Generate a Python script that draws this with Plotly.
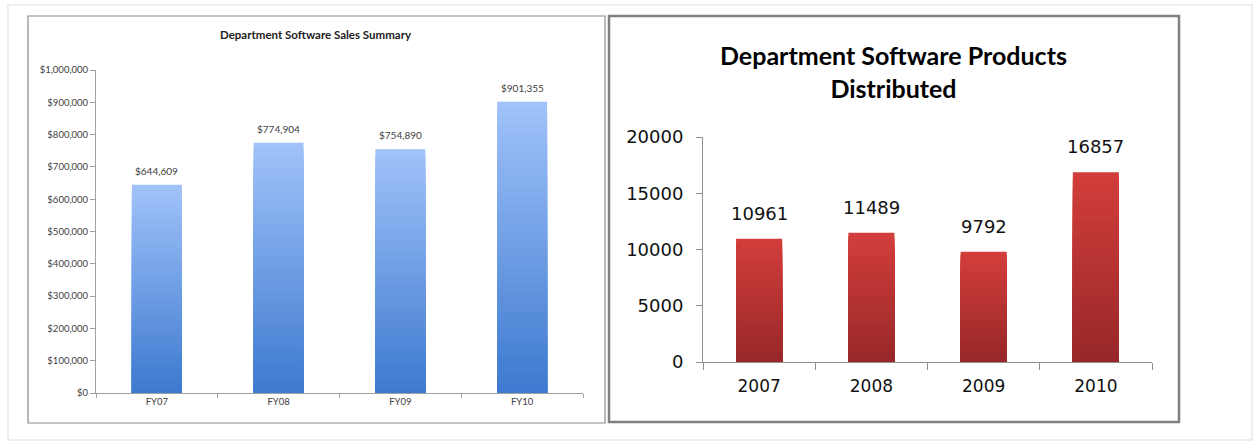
import plotly.graph_objects as go

# ---- data ----
sales_categories = ["FY07", "FY08", "FY09", "FY10"]
sales_values = [644609, 774904, 754890, 901355]
sales_tickvals = [0, 100000, 200000, 300000, 400000, 500000, 600000, 700000, 800000, 900000, 1000000]
sales_ticktext = ["$0", "$100,000", "$200,000", "$300,000", "$400,000", "$500,000",
                  "$600,000", "$700,000", "$800,000", "$900,000", "$1,000,000"]

prod_categories = ["2007", "2008", "2009", "2010"]
prod_values = [10961, 11489, 9792, 16857]
prod_tickvals = [0, 5000, 10000, 15000, 20000]

W, H = 1259, 442


def px(x):
    return x / W


def py(y):
    return 1 - y / H


def lerp(c1, c2, t):
    return "rgb(%d,%d,%d)" % tuple(round(a + (b - a) * t) for a, b in zip(c1, c2))


fig = go.Figure()

N = 40
blue_top, blue_bot = (160, 194, 248), (62, 122, 208)
red_top, red_bot = (210, 62, 60), (152, 40, 40)

for k in range(N, 0, -1):
    t = (k - 1) / (N - 1)
    fig.add_trace(go.Bar(
        x=sales_categories, y=[v * k / N for v in sales_values],
        marker=dict(color=lerp(blue_bot, blue_top, t), line=dict(width=0)),
        width=0.41, xaxis="x", yaxis="y", showlegend=False, hoverinfo="skip"))
    fig.add_trace(go.Bar(
        x=prod_categories, y=[v * k / N for v in prod_values],
        marker=dict(color=lerp(red_bot, red_top, t), line=dict(width=0)),
        width=0.41, xaxis="x2", yaxis="y2", showlegend=False, hoverinfo="skip"))

annotations = []
for i, v in enumerate(sales_values):
    annotations.append(dict(x=i, y=v, xref="x", yref="y", text="${:,}".format(v),
                            showarrow=False, xanchor="center", yanchor="bottom", yshift=6,
                            font=dict(family="Lato", size=10, color="#404040")))
for i, v in enumerate(prod_values):
    annotations.append(dict(x=i, y=v, xref="x2", yref="y2", text=str(v),
                            showarrow=False, xanchor="center", yanchor="bottom", yshift=13,
                            font=dict(family="DejaVu Sans", size=18, color="#111111")))

annotations.append(dict(x=px(316), y=py(35), xref="paper", yref="paper",
                        xanchor="center", yanchor="middle",
                        text="<b>Department Software Sales Summary</b>", showarrow=False,
                        font=dict(family="Lato", size=11.5, color="#222222")))
annotations.append(dict(x=px(893), y=py(72), xref="paper", yref="paper",
                        xanchor="center", yanchor="middle",
                        text="<b>Department Software Products<br>Distributed</b>", showarrow=False,
                        font=dict(family="Lato", size=25, color="#000000")))

shapes = [
    dict(type="rect", xref="paper", yref="paper", x0=px(8), x1=px(1252), y0=py(440), y1=py(5),
         line=dict(color="#eeeeee", width=2)),
    dict(type="rect", xref="paper", yref="paper", x0=px(28), x1=px(605), y0=py(423), y1=py(16),
         line=dict(color="#8a8a8a", width=1.2)),
    dict(type="rect", xref="paper", yref="paper", x0=px(609), x1=px(1179), y0=py(422), y1=py(16),
         line=dict(color="#808080", width=2.5)),
]

fig.update_layout(
    width=W, height=H, margin=dict(l=0, r=0, t=0, b=0, pad=0, autoexpand=False),
    paper_bgcolor="white", plot_bgcolor="white",
    barmode="overlay", bargap=0.59,
    annotations=annotations, shapes=shapes,
    xaxis=dict(domain=[px(96), px(583)], anchor="y", type="category", range=[-0.5, 3.5],
               showgrid=False, showline=True, automargin=False,
               linecolor="#a0a0a0", linewidth=1, ticks="outside", tickson="boundaries",
               ticklen=4, tickcolor="#a0a0a0",
               tickfont=dict(family="Lato", size=9.5, color="#404040")),
    yaxis=dict(domain=[py(393), py(70)], anchor="x", range=[0, 1000000], showgrid=False,
               automargin=False,
               showline=True, linecolor="#a0a0a0", linewidth=1, ticks="outside",
               ticklen=5, tickcolor="#a0a0a0", tickvals=sales_tickvals, ticktext=sales_ticktext,
               zeroline=False,
               tickfont=dict(family="Lato", size=9.5, color="#404040")),
    xaxis2=dict(domain=[px(703), px(1152)], anchor="y2", type="category", range=[-0.5, 3.5],
                showgrid=False, showline=True, automargin=False, tickangle=0,
                linecolor="#909090", linewidth=1, ticks="outside", tickson="boundaries",
                ticklen=7, tickcolor="#909090", ticklabelstandoff=9,
                tickfont=dict(family="DejaVu Sans", size=17, color="#111111")),
    yaxis2=dict(domain=[py(362), py(137)], anchor="x2", range=[0, 20000], showgrid=False,
                automargin=False,
                showline=True, linecolor="#909090", linewidth=1, ticks="outside",
                ticklen=6, tickcolor="#909090", tickvals=prod_tickvals, tickformat="d",
                ticklabelstandoff=9, zeroline=False,
                tickfont=dict(family="DejaVu Sans", size=18, color="#111111")),
)

fig.write_html("out.html", config={"displayModeBar": False})

with open("out.html", "r", encoding="utf-8") as f:
    html = f.read()
html = html.replace("<head>", "<head><style>html,body{margin:0;padding:0;overflow:hidden;}</style>", 1)
with open("out.html", "w", encoding="utf-8") as f:
    f.write(html)
